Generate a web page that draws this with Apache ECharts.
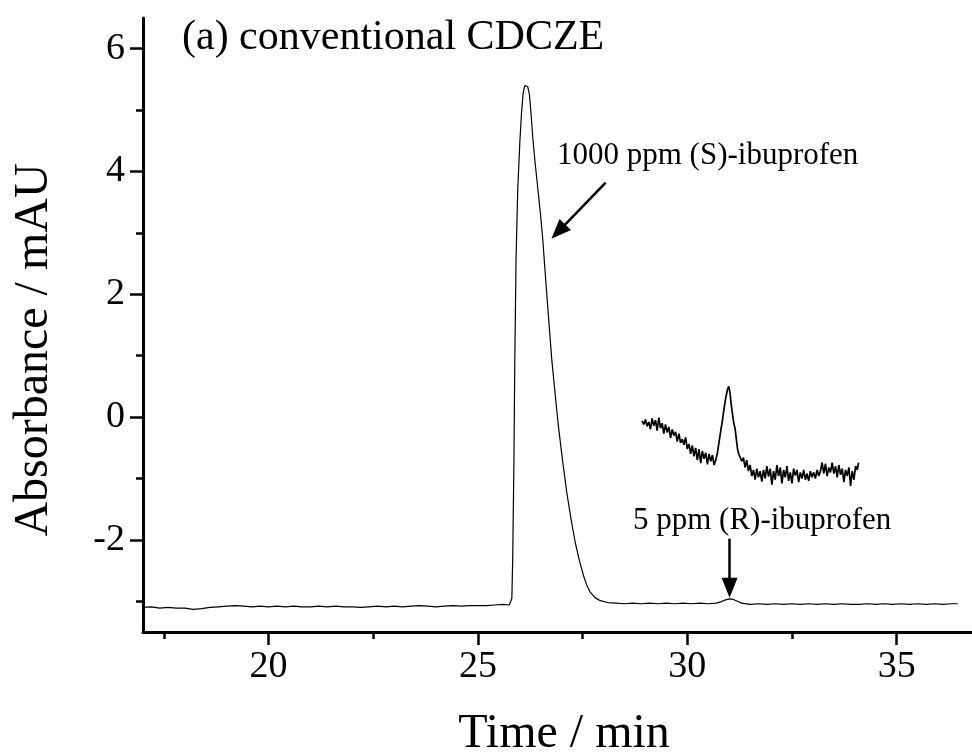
<!DOCTYPE html>
<html>
<head>
<meta charset="utf-8">
<script src="https://cdn.jsdelivr.net/npm/echarts@6/dist/echarts.min.js"></script>
<style>
  html, body { margin: 0; padding: 0; background: #fff; }
  #graph { width: 972px; height: 756px; }
</style>
</head>
<body>
<div id="graph"></div>
<script>
// electropherogram, full run
const mainTime = [17.0,17.2,17.4,17.6,17.8,18.0,18.2,18.4,18.6,18.8,19.0,19.2,19.4,19.6,19.8,20.0,20.2,20.4,20.6,20.8,
  21.0,21.2,21.4,21.6,21.8,22.0,22.2,22.4,22.6,22.8,23.0,23.2,23.4,23.6,23.8,24.0,24.2,24.4,24.6,24.8,25.0,25.2,25.4,25.6,25.75,
  25.81,25.83,25.86,25.88,25.91,25.95,26.0,26.04,26.08,26.12,26.15,26.19,26.23,26.27,26.31,26.36,26.43,26.50,26.55,26.60,
  26.68,26.76,26.84,26.92,27.02,27.12,27.22,27.32,27.42,27.52,27.60,27.68,27.80,27.92,28.1,28.3,28.5,28.7,28.9,29.1,29.3,
  29.5,29.7,29.9,30.1,30.3,30.5,30.7,30.8,30.9,31.0,31.1,31.2,31.3,31.5,31.7,31.9,32.1,32.3,32.5,32.7,32.9,33.1,33.3,33.5,
  33.7,33.9,34.1,34.3,34.5,34.7,34.9,35.1,35.3,35.5,35.7,35.9,36.1,36.3,36.46]
const mainAbs = [-3.10,-3.09,-3.11,-3.10,-3.11,-3.11,-3.13,-3.12,-3.10,-3.09,-3.08,-3.07,-3.08,-3.09,-3.08,-3.09,-3.08,-3.09,-3.08,-3.09,
  -3.09,-3.08,-3.09,-3.08,-3.09,-3.09,-3.10,-3.09,-3.08,-3.09,-3.08,-3.09,-3.08,-3.07,-3.08,-3.09,-3.08,-3.07,-3.08,-3.07,-3.07,-3.07,-3.06,-3.05,-3.06,
  -2.95,-2.31,-0.68,0.90,2.57,3.70,4.47,4.95,5.28,5.40,5.43,5.38,5.25,4.92,4.55,4.18,3.72,3.26,2.88,2.40,
  1.68,0.96,0.40,-0.14,-0.70,-1.22,-1.65,-2.03,-2.33,-2.58,-2.74,-2.85,-2.94,-2.99,-3.02,-3.03,-3.04,-3.03,-3.04,-3.03,-3.04,
  -3.03,-3.04,-3.03,-3.04,-3.03,-3.04,-3.03,-3.01,-2.98,-2.96,-2.97,-3.00,-3.03,-3.05,-3.04,-3.05,-3.04,-3.05,-3.04,-3.05,-3.04,-3.05,-3.04,-3.05,
  -3.04,-3.05,-3.05,-3.04,-3.05,-3.04,-3.05,-3.04,-3.05,-3.04,-3.05,-3.04,-3.05,-3.04,-3.04]

// magnified trace around the (R) peak
const insetTime = [28.92,28.96,29.00,29.04,29.08,29.12,29.16,29.20,29.24,29.28,29.32,29.36,29.40,29.44,29.48,29.52,29.56,29.60,29.64,29.68,
  29.72,29.76,29.80,29.84,29.88,29.92,29.96,30.00,30.04,30.08,30.12,30.16,30.20,30.24,30.28,30.32,30.36,30.40,30.44,30.48,
  30.52,30.56,30.60,30.64,30.68,30.72,30.76,30.80,30.84,30.88,30.92,30.96,30.99,31.02,31.05,31.08,31.11,31.14,31.17,31.20,
  31.23,31.26,31.30,31.34,31.38,31.42,31.46,31.50,31.54,31.58,31.62,31.66,31.70,31.74,31.78,31.82,31.86,31.90,31.94,31.98,
  32.02,32.06,32.10,32.14,32.18,32.22,32.26,32.30,32.34,32.38,32.42,32.46,32.50,32.54,32.58,32.62,32.66,32.70,32.74,32.78,
  32.82,32.86,32.90,32.94,32.98,33.02,33.06,33.10,33.14,33.18,33.22,33.26,33.30,33.34,33.38,33.42,33.46,33.50,33.54,33.58,
  33.62,33.66,33.70,33.74,33.78,33.82,33.86,33.90,33.94,33.98,34.02,34.06,34.09]
const insetAbs = [-0.06,-0.12,-0.04,-0.15,-0.08,-0.20,-0.02,-0.14,-0.05,-0.22,-0.01,-0.18,-0.10,-0.27,-0.12,-0.25,-0.16,-0.34,-0.20,-0.30,
  -0.24,-0.40,-0.27,-0.42,-0.36,-0.45,-0.33,-0.52,-0.44,-0.60,-0.46,-0.64,-0.50,-0.70,-0.52,-0.75,-0.55,-0.68,-0.58,-0.77,
  -0.60,-0.72,-0.62,-0.78,-0.70,-0.58,-0.40,-0.22,-0.05,0.15,0.32,0.45,0.50,0.40,0.20,0.05,-0.10,-0.18,-0.35,-0.52,
  -0.60,-0.58,-0.72,-0.66,-0.82,-0.70,-0.88,-0.78,-0.96,-0.86,-1.02,-0.84,-0.98,-0.88,-1.05,-0.86,-1.00,-0.80,-0.97,-0.84,
  -1.10,-0.88,-1.02,-0.78,-0.96,-0.82,-1.08,-0.86,-0.98,-0.80,-1.04,-0.90,-1.08,-0.84,-0.95,-0.86,-1.06,-0.90,-1.00,-0.86,
  -1.02,-0.92,-1.04,-0.88,-0.98,-0.90,-1.00,-0.86,-0.96,-0.88,-0.74,-0.92,-0.76,-0.96,-0.82,-0.90,-0.74,-0.92,-0.80,-0.98,
  -0.78,-0.94,-0.84,-1.06,-0.86,-0.96,-0.82,-1.12,-0.88,-1.02,-0.80,-0.86,-0.74]

const xMajor = [20, 25, 30, 35]
const xMinor = [17.5, 22.5, 27.5, 32.5]
const yMajor = [-2, 0, 2, 4, 6]
const yMinor = [-3, -1, 1, 3, 5]

// arrows [time, abs] from -> to
const arrowS = [[28.05, 3.82], [26.92, 3.02]]
const arrowR = [[31.01, -1.98], [31.01, -2.78]]

const FONT = '"Liberation Serif", "Times New Roman", serif'
const zip = (a, b) => a.map((t, i) => [t, b[i]])

const myChart = echarts.init(document.getElementById('graph'))

const axisBase = (pos, ticks, len, showLine, labels) => ({
  type: 'value',
  position: pos,
  min: pos === 'bottom' ? 17 : -3.5,
  max: pos === 'bottom' ? 36.8 : 6.5,
  splitLine: { show: false },
  axisLine: { show: showLine, onZero: false, lineStyle: { color: '#000', width: 3 } },
  axisTick: { show: true, customValues: ticks, length: len, lineStyle: { color: '#000', width: 2.5 } },
  axisLabel: labels ? {
    show: true, customValues: ticks, color: '#000', fontFamily: FONT, fontSize: 38,
    margin: pos === 'bottom' ? 16 : 18
  } : { show: false }
})

myChart.setOption({
  animation: false,
  grid: { left: 143, right: 0, top: 18, bottom: 124 },
  xAxis: [axisBase('bottom', xMajor, 13, true, true), axisBase('bottom', xMinor, 7, false, false)],
  yAxis: [axisBase('left', yMajor, 13, true, true), axisBase('left', yMinor, 7, false, false)],
  series: [
    {
      type: 'line', data: zip(mainTime, mainAbs), showSymbol: false,
      lineStyle: { color: '#000', width: 1.2 },
      markLine: {
        silent: true, symbol: ['none', 'triangle'], symbolSize: [16, 20],
        lineStyle: { color: '#000', width: 2.5, type: 'solid' },
        label: { show: false },
        data: [
          [{ coord: arrowS[0] }, { coord: arrowS[1] }],
          [{ coord: arrowR[0] }, { coord: arrowR[1] }]
        ]
      }
    },
    {
      type: 'line', data: zip(insetTime, insetAbs), showSymbol: false,
      lineStyle: { color: '#000', width: 1.7 }
    }
  ],
  graphic: [
    { type: 'text', x: 182, y: 38, style: { text: '(a) conventional CDCZE', font: '42px ' + FONT, fill: '#000', verticalAlign: 'middle' } },
    { type: 'text', x: 557, y: 156, style: { text: '1000 ppm (S)-ibuprofen', font: '31px ' + FONT, fill: '#000', verticalAlign: 'middle' } },
    { type: 'text', x: 633, y: 521, style: { text: '5 ppm (R)-ibuprofen', font: '31px ' + FONT, fill: '#000', verticalAlign: 'middle' } },
    { type: 'text', x: 564, y: 734, style: { text: 'Time / min', font: '48px ' + FONT, fill: '#000', align: 'center', verticalAlign: 'middle' } },
    { type: 'text', x: 34, y: 350, rotation: Math.PI / 2, style: { text: 'Absorbance / mAU', font: '48px ' + FONT, fill: '#000', align: 'center', verticalAlign: 'middle' } }
  ]
})
</script>
</body>
</html>
